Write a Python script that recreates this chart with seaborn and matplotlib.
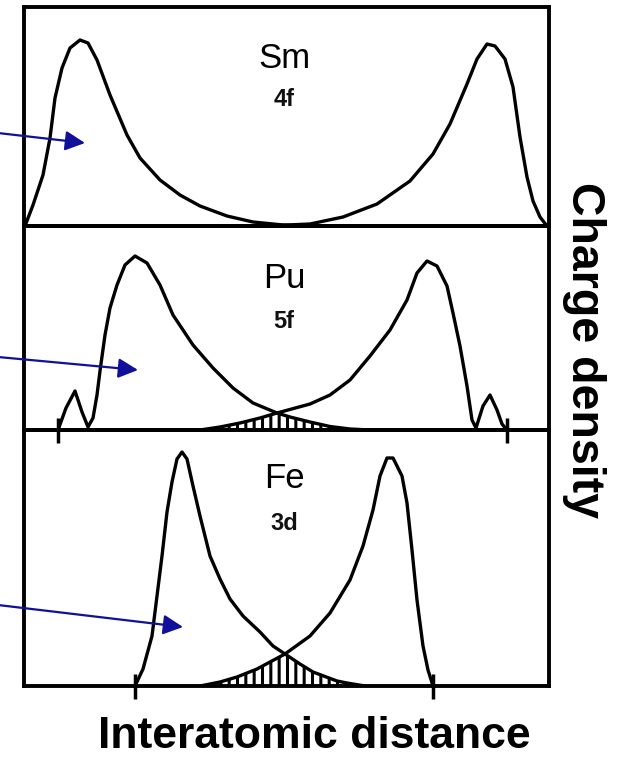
import numpy as np
import pandas as pd
import matplotlib
matplotlib.use("Agg")
import matplotlib.pyplot as plt
import seaborn as sns

# ---------------- data ----------------
# x: interatomic distance (arbitrary units), y: charge density (arbitrary units)
sm_left_x = [0.01, 0.09, 0.19, 0.26, 0.31, 0.38, 0.46, 0.56, 0.64, 0.73, 0.86, 1.03, 1.16, 1.36,
             1.56, 1.76, 2.03, 2.29, 2.59, 2.86]
sm_left_y = [0.0, 0.21, 0.51, 0.88, 1.28, 1.58, 1.78, 1.86, 1.83, 1.66, 1.31, 0.91, 0.68, 0.46,
             0.31, 0.20, 0.10, 0.04, 0.01, 0.0]
sm_right_x = [2.41, 2.86, 3.19, 3.53, 3.86, 4.09, 4.26, 4.43, 4.53, 4.63, 4.71, 4.81, 4.89, 4.96,
              5.03, 5.09, 5.16, 5.23]
sm_right_y = [0.0, 0.02, 0.09, 0.22, 0.45, 0.72, 1.02, 1.42, 1.67, 1.82, 1.80, 1.67, 1.39, 0.89,
              0.49, 0.25, 0.09, 0.0]

pu_left_x = [0.34, 0.42, 0.51, 0.58, 0.64, 0.69, 0.73, 0.76, 0.81, 0.86, 0.93, 1.01, 1.11, 1.23,
             1.36, 1.49, 1.69, 1.89, 2.09, 2.29, 2.53, 2.66, 2.86, 3.06, 3.26, 3.46]
pu_left_y = [0.0, 0.22, 0.39, 0.18, 0.03, 0.12, 0.35, 0.59, 0.95, 1.22, 1.45, 1.65, 1.74, 1.67,
             1.45, 1.15, 0.85, 0.62, 0.42, 0.27, 0.17, 0.13, 0.08, 0.035, 0.01, 0.0]
pu_right_x = [1.76, 1.96, 2.16, 2.36, 2.53, 2.86, 3.06, 3.26, 3.46, 3.66, 3.83, 3.93, 4.03, 4.13,
              4.23, 4.29, 4.36, 4.43, 4.48, 4.52, 4.59, 4.66, 4.73, 4.78, 4.83]
pu_right_y = [0.0, 0.03, 0.07, 0.12, 0.17, 0.26, 0.35, 0.50, 0.74, 1.00, 1.30, 1.57, 1.69, 1.64,
              1.44, 1.17, 0.84, 0.44, 0.10, 0.02, 0.24, 0.35, 0.20, 0.06, 0.0]

fe_left_x = [1.11, 1.19, 1.28, 1.33, 1.38, 1.43, 1.48, 1.53, 1.58, 1.63, 1.69, 1.76, 1.86, 1.96,
             2.06, 2.19, 2.36, 2.49, 2.61, 2.76, 2.89, 3.13, 3.23, 3.41]
fe_left_y = [0.0, 0.17, 0.50, 0.90, 1.30, 1.74, 2.04, 2.27, 2.34, 2.27, 2.00, 1.70, 1.30, 1.07,
             0.87, 0.70, 0.54, 0.40, 0.32, 0.22, 0.14, 0.05, 0.03, 0.0]
fe_right_x = [1.76, 1.96, 2.13, 2.33, 2.46, 2.61, 2.86, 3.06, 3.26, 3.39, 3.49, 3.56, 3.63, 3.69,
              3.78, 3.83, 3.88, 3.93, 3.99, 4.04, 4.09]
fe_right_y = [0.0, 0.04, 0.09, 0.17, 0.24, 0.32, 0.50, 0.73, 1.06, 1.40, 1.76, 2.10, 2.28, 2.28,
              2.10, 1.83, 1.36, 0.86, 0.40, 0.16, 0.0]

panel_names = ["Sm", "Pu", "Fe"]
panel_orbitals = ["4f", "5f", "3d"]
pu_crossing = 2.53
fe_crossing = 2.61
pu_ticks = [0.34, 4.83]
fe_ticks = [1.11, 4.09]

# ---------------- styling ----------------
sns.set_theme(style="white")
plt.rcParams["font.family"] = ["Liberation Sans", "DejaVu Sans"]
plt.rcParams["hatch.linewidth"] = 2.2

W, H = 619, 757
fig = plt.figure(figsize=(W / 100, H / 100), dpi=100)
fig.patch.set_facecolor("white")

left = 24 / W
width = (549 - 24) / W
# panel boxes in pixels (top, bottom)
boxes = [(7, 226), (226, 430), (430, 686)]
axes = []
for top, bot in boxes:
    ax = fig.add_axes([left, 1 - bot / H, width, (bot - top) / H])
    ax.set_xlim(0, 5.25)
    ax.set_ylim(0, (bot - top) / 100)
    ax.patch.set_visible(False)
    for s in ax.spines.values():
        s.set_linewidth(2.8)
        s.set_color("black")
    ax.set_xticks([])
    ax.set_yticks([])
    ax.set_xlabel("")
    ax.set_ylabel("")
    axes.append(ax)

line_kw = dict(color="black", linewidth=2.4, legend=False)

def draw_pair(ax, lx, ly, rx, ry):
    sns.lineplot(data=pd.DataFrame({"x": lx, "y": ly}), x="x", y="y", ax=ax, sort=False, **line_kw)
    sns.lineplot(data=pd.DataFrame({"x": rx, "y": ry}), x="x", y="y", ax=ax, sort=False, **line_kw)
    ax.set_xlabel("")
    ax.set_ylabel("")

draw_pair(axes[0], sm_left_x, sm_left_y, sm_right_x, sm_right_y)
draw_pair(axes[1], pu_left_x, pu_left_y, pu_right_x, pu_right_y)
draw_pair(axes[2], fe_left_x, fe_left_y, fe_right_x, fe_right_y)

# overlap (hatched) regions: lower envelope of the two curves
def overlap(ax, lx, ly, rx, ry, cross):
    ox = [x for x in rx if x <= cross] + [x for x in lx if x > cross]
    oy = [y for x, y in zip(rx, ry) if x <= cross] + [y for x, y in zip(lx, ly) if x > cross]
    ax.fill_between(ox, 0, oy, facecolor="none", edgecolor="black", hatch="||", linewidth=0)

overlap(axes[1], pu_left_x, pu_left_y, pu_right_x, pu_right_y, pu_crossing)
overlap(axes[2], fe_left_x, fe_left_y, fe_right_x, fe_right_y, fe_crossing)

# tick marks crossing the baselines
for ax, ticks in [(axes[1], pu_ticks), (axes[2], fe_ticks)]:
    ax.set_xticks(ticks)
    ax.set_xticklabels([])
    ax.tick_params(axis="x", direction="inout", length=18, width=2.5, color="black", bottom=True)

# element / orbital labels
name_y = [58, 278, 478]
orb_y = [99, 321, 523]
for nm, orb, ny, oy in zip(panel_names, panel_orbitals, name_y, orb_y):
    fig.text(284 / W, 1 - ny / H, nm, ha="center", va="center", fontsize=25, color="black")
    fig.text(284 / W, 1 - oy / H, orb, ha="center", va="center", fontsize=17,
             fontweight="bold", color="#111111")

# arrows coming from the left
arrow_color = "#10109a"
arrow_heads = [(axes[0], 0.61, 0.83), (axes[1], 1.14, 0.60), (axes[2], 1.59, 0.59)]
arrow_tails_px = [(-2, H - 133), (-2, H - 357), (-2, H - 605)]
for (ax, hx, hy), (tx, ty) in zip(arrow_heads, arrow_tails_px):
    ax.annotate("", xy=(hx, hy), xycoords="data", xytext=(tx, ty), textcoords="figure pixels",
                arrowprops=dict(arrowstyle="-|>", color=arrow_color, lw=1.6,
                                mutation_scale=30, shrinkA=0, shrinkB=0),
                annotation_clip=False)

# axis titles
fig.text(314 / W, 1 - 737 / H, "Interatomic distance", ha="center", va="center",
         fontsize=32, fontweight="bold", color="black")
fig.text(584 / W, 1 - 350 / H, "Charge density", ha="center", va="center",
         fontsize=33.5, fontweight="bold", rotation=-90, color="black")

fig.savefig("out.png", dpi=100, facecolor="white")
